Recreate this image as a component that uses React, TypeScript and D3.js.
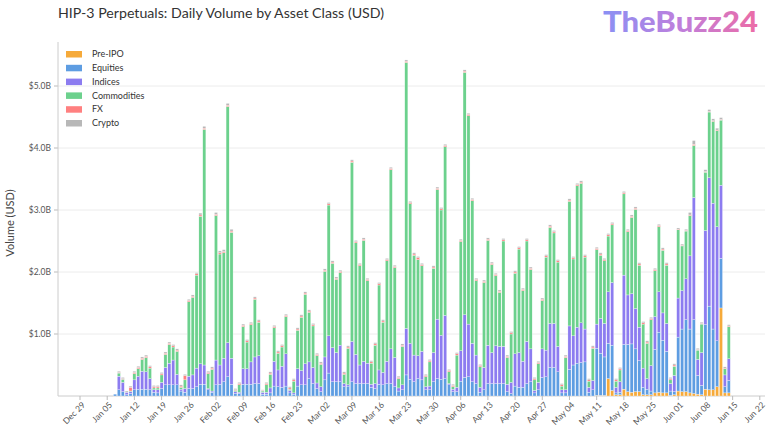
import React from "react";
import * as d3 from "d3";

const TITLE = "HIP-3 Perpetuals: Daily Volume by Asset Class (USD)";
const SERIES = ["Pre-IPO", "Equities", "Indices", "Commodities", "FX", "Crypto"];
const COLORS = ["#F6AA3A", "#5E9DE2", "#8C7CF0", "#6CD18D", "#FF8080", "#B8B8B8"];
const Y_TICKS = [1, 2, 3, 4, 5];
const START = new Date(2026, 0, 7);
const END = new Date(2026, 5, 15);

// values in $B, one per day Jan 7 .. Jun 14
const preIPO = [
  // Jan 7-31
  0,0,0,0,0,0,0,0,0,0,0,0,0,0,0,0,0,0,0,0,0,0,0,0,0,
  // Feb
  0,0,0,0,0,0,0,0,0,0,0,0,0,0,0,0,0,0,0,0,0,0,0,0,0,0,0,0,
  // Mar
  0,0,0,0,0,0,0,0,0,0,0,0,0,0,0,0,0,0,0,0,0,0,0,0,0,0,0,0,0,0,0,
  // Apr
  0,0,0,0,0,0,0,0,0,0,0,0,0,0,0,0,0,0,0,0,0,0,0,0,0,0,0,0,0,0,
  // May
  0,0,0,0,0,0,0,0,0,0,0.01,0.01,0.01,0.28,0.09,0.02,0.02,0.11,0.07,0.06,0.07,0.07,0.02,0.02,0.02,0.05,0.06,0.05,0.05,0.01,0.02,
  // Jun 1-14
  0.08,0.07,0.07,0.05,0.04,0.03,0.02,0.11,0.10,0.10,0.15,1.42,0.05,0.05,
];
const equities = [
  0.03,0.10,0.07,0.02,0.04,0.10,0.11,0.11,0.11,0.10,0.06,0.05,0.12,0.18,0.18,0.18,0.18,0.08,0.06,0.12,0.12,0.15,0.19,0.19,0.10,
  0.06,0.18,0.19,0.23,0.31,0.19,0.04,0.04,0.19,0.19,0.19,0.20,0.20,0.03,0.03,0.05,0.16,0.15,0.14,0.16,0.05,0.03,0.16,0.18,0.18,0.28,0.20,0.12,
  0.07,0.26,0.37,0.23,0.23,0.23,0.15,0.16,0.23,0.20,0.20,0.20,0.20,0.14,0.12,0.19,0.18,0.20,0.20,0.15,0.08,0.10,0.34,0.27,0.23,0.28,0.26,0.10,0.10,0.23,0.28,
  0.27,0.28,0.18,0.07,0.07,0.24,0.30,0.31,0.23,0.20,0.06,0.10,0.20,0.20,0.20,0.20,0.20,0.07,0.04,0.16,0.14,0.14,0.20,0.23,0.05,0.10,0.30,0.31,0.46,0.46,
  0.39,0.05,0.05,0.43,0.50,0.53,0.54,0.55,0.06,0.10,0.76,0.68,0.62,0.57,0.73,0.03,0.04,0.72,0.76,0.78,0.69,0.50,0.12,0.09,0.06,0.70,0.97,0.85,0.67,0.07,0.05,
  0.87,1.01,1.16,1.03,1.19,0.30,0.15,1.04,1.35,0.98,0.74,0.80,0.10,0.20,
];
const indices = [
  0.00,0.22,0.15,0.04,0.03,0.16,0.21,0.29,0.28,0.18,0.04,0.05,0.10,0.28,0.35,0.40,0.17,0.03,0.06,0.20,0.22,0.30,0.33,0.31,0.02,
  0.02,0.40,0.31,0.38,0.55,0.42,0.03,0.02,0.25,0.25,0.36,0.43,0.45,0.03,0.03,0.08,0.40,0.27,0.34,0.52,0.04,0.02,0.28,0.23,0.34,0.27,0.26,0.09,
  0.08,0.37,0.60,0.55,0.47,0.59,0.05,0.02,0.65,0.47,0.30,0.36,0.33,0.05,0.08,0.23,0.20,0.36,0.56,0.47,0.05,0.08,0.75,0.58,0.43,0.37,0.46,0.05,0.06,0.47,0.96,
  0.71,1.02,0.02,0.04,0.07,0.49,1.01,0.85,0.62,0.46,0.08,0.36,0.62,0.50,0.61,0.60,0.60,0.12,0.18,0.52,0.56,0.42,0.68,0.53,0.04,0.12,0.46,0.43,0.71,0.71,
  0.41,0.05,0.05,0.70,0.47,0.58,0.64,0.53,0.08,0.15,0.39,0.56,0.54,0.83,1.01,0.09,0.17,1.12,0.80,0.81,0.65,0.54,0.31,0.17,0.41,0.53,0.65,0.44,0.45,0.12,0.26,
  0.63,0.62,0.66,1.18,1.97,0.26,0.53,1.52,2.07,2.03,1.84,1.18,0.19,0.35,
];
const commodities = [
  0.00,0.05,0.05,0.00,0.01,0.10,0.12,0.19,0.23,0.17,0.03,0.03,0.12,0.21,0.30,0.21,0.37,0.03,0.14,1.20,1.25,1.50,2.38,3.80,0.24,
  0.35,2.33,1.79,1.70,3.81,2.03,0.02,0.12,0.68,0.43,0.60,0.93,0.54,0.02,0.12,0.22,0.54,0.27,0.31,0.60,0.02,0.19,0.62,0.86,1.12,0.80,0.67,0.44,
  0.36,1.38,2.11,1.36,1.18,1.17,0.15,0.59,2.89,1.80,1.60,1.95,1.33,0.34,0.62,1.37,0.81,1.62,2.89,1.45,0.15,0.62,4.29,2.25,1.61,1.55,1.38,0.16,0.39,1.36,2.09,
  2.02,2.72,0.19,0.04,0.52,1.76,3.91,3.36,2.30,1.20,0.33,1.37,1.69,1.42,1.13,0.87,1.70,0.43,0.78,1.30,1.67,1.14,1.62,1.28,0.17,0.30,0.78,1.50,1.55,1.46,
  1.36,0.06,0.52,2.01,1.24,2.28,2.25,1.16,0.10,0.52,1.20,1.02,1.01,0.90,0.93,0.10,0.19,1.31,1.02,1.23,1.60,1.00,0.71,0.57,0.74,0.74,1.05,1.01,0.94,0.06,0.15,
  1.10,0.72,0.77,0.65,0.84,0.15,0.46,0.94,1.06,1.32,1.55,1.05,0.10,0.52,
];
const fx = [
  0,0.01,0.01,0,0.06,0.02,0.02,0.02,0.02,0.02,0.02,0.02,0.02,0.02,0.02,0.02,0.02,0.02,0.07,0.02,0.02,0.02,0.02,0.02,0.02,
  0.02,0.02,0.02,0.02,0.02,0.02,0.01,0.02,0.02,0.02,0.02,0.02,0.02,0.01,0.02,0.02,0.02,0.02,0.02,0.02,0.02,0.02,0.02,0.02,0.02,0.02,0.02,0.02,
  0.02,0.02,0.02,0.02,0.02,0.02,0.02,0.02,0.02,0.02,0.02,0.02,0.02,0.02,0.02,0.02,0.02,0.02,0.02,0.02,0.02,0.02,0.02,0.02,0.02,0.03,0.02,0.02,0.02,0.02,0.02,
  0.02,0.02,0.02,0.02,0.02,0.02,0.02,0.02,0.02,0.02,0.02,0.02,0.02,0.02,0.02,0.02,0.02,0.02,0.02,0.02,0.02,0.02,0.02,0.02,0.02,0.02,0.02,0.02,0.02,0.02,
  0.02,0.02,0.02,0.02,0.02,0.02,0.02,0.02,0.02,0.02,0.02,0.02,0.02,0.02,0.02,0.02,0.02,0.02,0.02,0.02,0.02,0.02,0.02,0.02,0.02,0.02,0.02,0.02,0.02,0.02,0.02,
  0.01,0.01,0.01,0.01,0.02,0.01,0.01,0.01,0.01,0.01,0.01,0.01,0.01,0.01,
];
const crypto = [
  0,0.02,0.02,0.02,0.02,0.02,0.02,0.02,0.02,0.02,0.02,0.02,0.02,0.02,0.02,0.02,0.02,0.02,0.02,0.02,0.02,0.02,0.03,0.03,0.02,
  0.02,0.03,0.03,0.03,0.03,0.03,0.02,0.02,0.02,0.02,0.02,0.02,0.02,0.01,0.02,0.02,0.02,0.02,0.02,0.02,0.02,0.02,0.02,0.02,0.02,0.02,0.02,0.02,
  0.02,0.02,0.02,0.02,0.02,0.02,0.02,0.02,0.02,0.02,0.02,0.02,0.02,0.02,0.02,0.02,0.02,0.02,0.02,0.02,0.02,0.02,0.02,0.02,0.02,0.02,0.02,0.02,0.02,0.02,0.02,
  0.02,0.02,0.02,0.02,0.02,0.02,0.02,0.02,0.02,0.02,0.02,0.02,0.02,0.02,0.02,0.02,0.02,0.02,0.02,0.02,0.02,0.02,0.02,0.02,0.02,0.02,0.02,0.02,0.02,0.02,
  0.02,0.02,0.02,0.02,0.02,0.02,0.02,0.02,0.02,0.02,0.02,0.02,0.02,0.02,0.02,0.02,0.02,0.02,0.02,0.02,0.02,0.02,0.02,0.02,0.02,0.02,0.02,0.02,0.02,0.02,0.02,
  0.02,0.02,0.02,0.04,0.06,0.02,0.02,0.03,0.03,0.03,0.03,0.03,0.02,0.02,
];

const W = 768, H = 440;
const M = { left: 58, right: 765, top: 42, bottom: 396 };
const FONT = "Lato, 'Open Sans', sans-serif";

export default function App() {
  const days = d3.timeDay.range(START, END);
  const cols = [preIPO, equities, indices, commodities, fx, crypto];
  const rows = days.map((d, i) => {
    const r: any = { date: d };
    SERIES.forEach((s, k) => (r[s] = cols[k][i] ?? 0));
    return r;
  });
  const stacked = d3.stack().keys(SERIES)(rows as any);

  const x = d3
    .scaleTime()
    .domain([new Date(2025, 11, 23, 8), new Date(2026, 5, 23, 8)])
    .range([M.left, M.right]);
  const y = d3.scaleLinear().domain([0, (M.bottom - M.top) / 62]).range([M.bottom, M.top]);
  const dayW = x(new Date(2026, 0, 2)) - x(new Date(2026, 0, 1));
  const bw = dayW * 0.8;
  const xTicks = d3.timeMonday.every(1)!.range(new Date(2025, 11, 29), new Date(2026, 5, 23));
  const fmt = d3.timeFormat("%b %d");

  return (
    <svg width={W} height={H} style={{ position: "absolute", left: 0, top: 0, background: "#fff" }} fontFamily={FONT}>
      <defs>
        <linearGradient id="wm" x1="0" x2="1" y1="0" y2="0">
          <stop offset="0%" stopColor="#8A90F4" />
          <stop offset="50%" stopColor="#BF7FDC" />
          <stop offset="100%" stopColor="#EC6CA6" />
        </linearGradient>
      </defs>
      <text x={58} y={18} fontSize={14.2} fill="#333">{TITLE}</text>
      <text x={603} y={32} fontSize={28} fontWeight={900} fill="url(#wm)" textLength={155} lengthAdjust="spacingAndGlyphs">TheBuzz24</text>

      {Y_TICKS.map((t) => (
        <g key={t}>
          <line x1={M.left} x2={M.right} y1={y(t)} y2={y(t)} stroke="#ececec" strokeWidth={1} />
          <line x1={M.left - 4} x2={M.left} y1={y(t)} y2={y(t)} stroke="#bbb" />
          <text x={M.left - 7} y={y(t)} dy="0.35em" textAnchor="end" fontSize={8.5} fill="#555">${t.toFixed(1)}B</text>
        </g>
      ))}
      <line x1={M.left} x2={M.left} y1={M.top} y2={M.bottom} stroke="#ccc" />
      <line x1={M.left} x2={M.right} y1={M.bottom} y2={M.bottom} stroke="#ccc" />
      <text transform={`translate(14,${(M.top + M.bottom) / 2 + 4}) rotate(-90)`} textAnchor="middle" fontSize={11} fill="#444">Volume (USD)</text>

      {stacked.map((layer, k) => (
        <g key={SERIES[k]} fill={COLORS[k]}>
          {layer.map((seg: any, i: number) => {
            const h = y(seg[0]) - y(seg[1]);
            if (h <= 0) return null;
            return (
              <rect key={i} x={x(rows[i].date) - bw / 2} width={bw} y={y(seg[1])} height={h} stroke="#fff" strokeWidth={0.3} />
            );
          })}
        </g>
      ))}

      {xTicks.map((t, i) => (
        <g key={i}>
          <line x1={x(t)} x2={x(t)} y1={M.bottom} y2={M.bottom + 4} stroke="#bbb" />
          <text transform={`translate(${x(t) + 2},${M.bottom + 6}) rotate(-45)`} textAnchor="end" dy="0.6em" fontSize={8.5} fill="#555">{fmt(t)}</text>
        </g>
      ))}

      {SERIES.map((s, k) => (
        <g key={s} transform={`translate(66,${54 + k * 13.8})`}>
          <rect x={0} y={-3} width={16} height={6.5} fill={COLORS[k]} />
          <text x={26} y={0} dy="0.35em" fontSize={9} fill="#333">{s}</text>
        </g>
      ))}
    </svg>
  );
}
